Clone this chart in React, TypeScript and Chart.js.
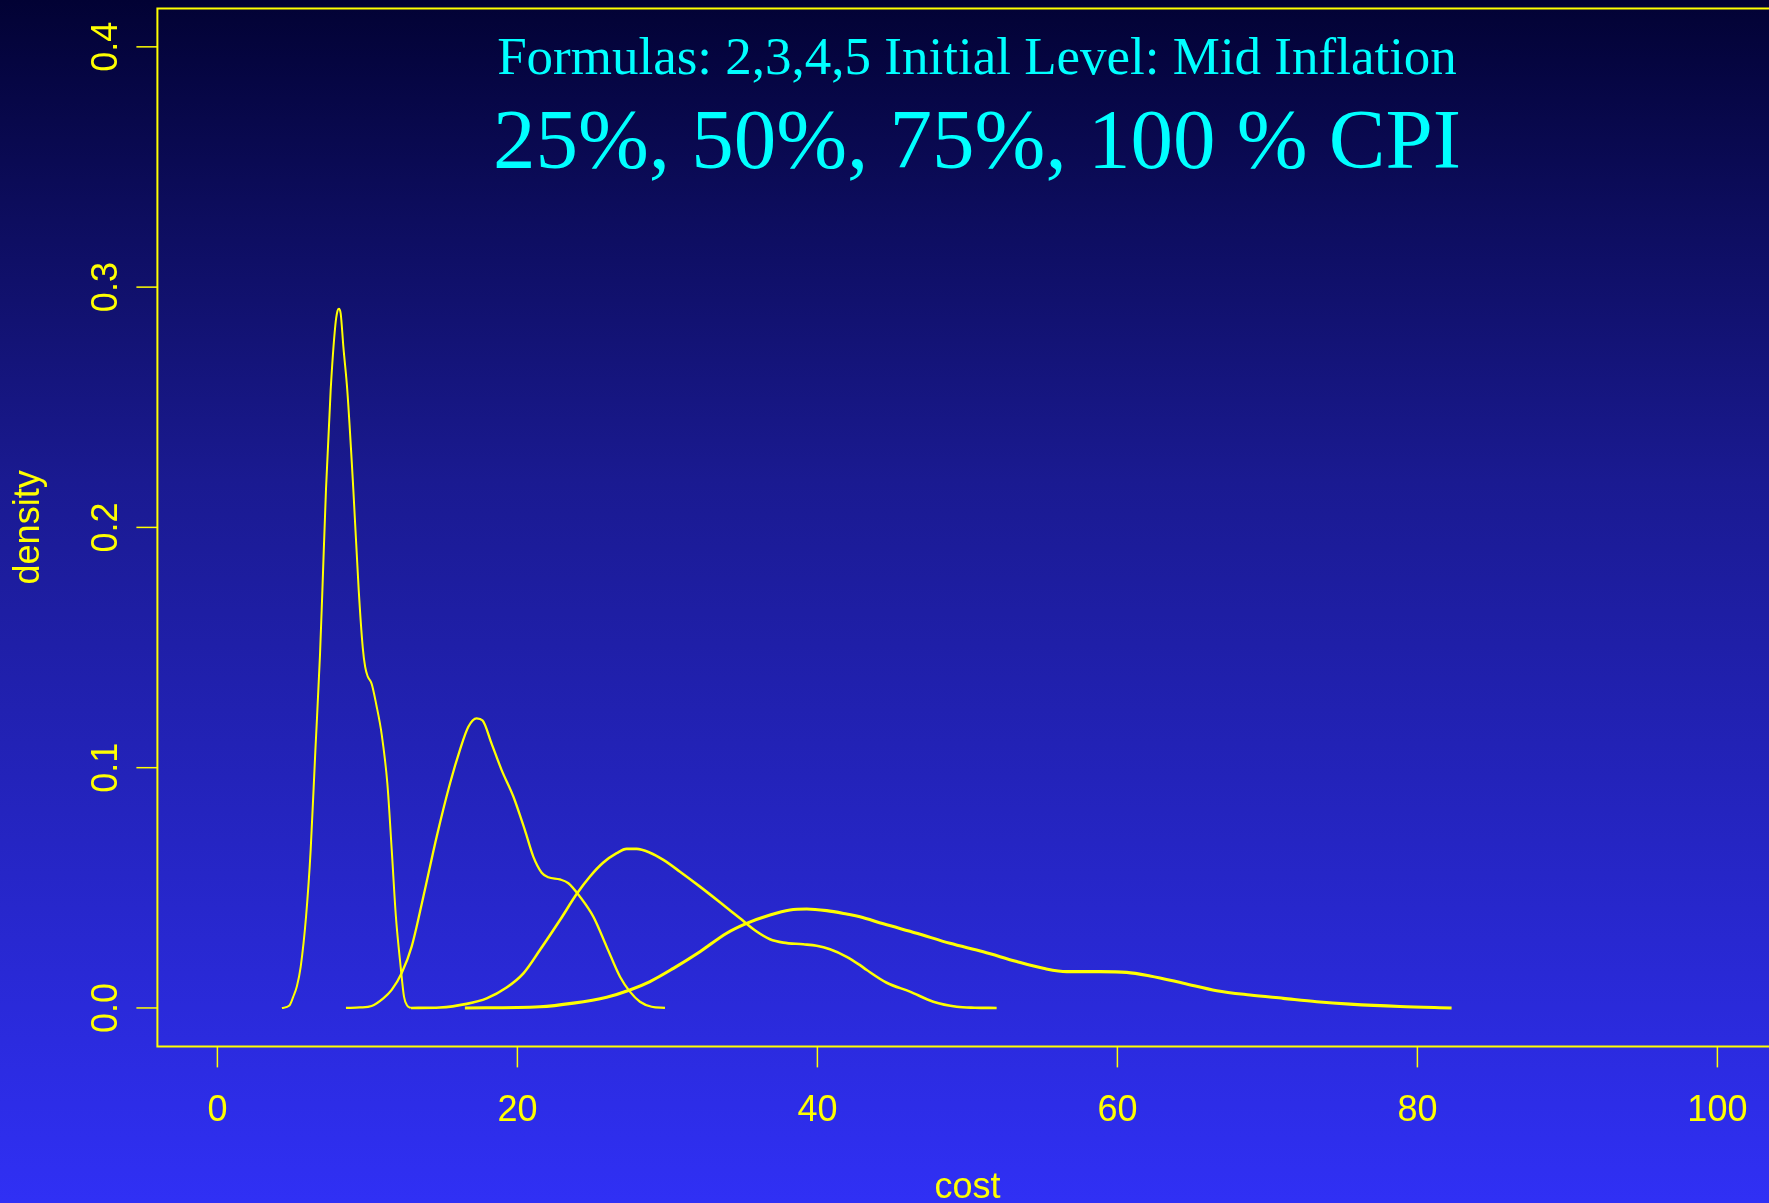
import React, { useEffect, useRef } from "react";
import { Chart, registerables } from "chart.js";

Chart.register(...registerables);

// ---- data ----
const xTicks = [0, 20, 40, 60, 80, 100];
const yTicks = [0, 0.1, 0.2, 0.3, 0.4];
const yTickLabels = ["0.0", "0.1", "0.2", "0.3", "0.4"];

const titleLine1 = "Formulas: 2,3,4,5 Initial Level: Mid Inflation";
const titleLine2 = "25%, 50%, 75%, 100 % CPI";
const xTitle = "cost";
const yTitle = "density";

const aX = [4.3, 4.8, 5.06, 5.3, 5.55, 5.91, 6.22, 6.53, 6.84, 7.0, 7.24, 7.55, 7.86, 8.0, 8.1, 8.22, 8.4, 8.66, 9.06, 9.42, 9.69, 9.85, 10.02, 10.28, 10.6, 10.95, 11.33, 11.62, 11.9, 12.22, 12.44, 12.65, 12.9];
const aY = [0, 0.001, 0.0047, 0.009, 0.017, 0.038, 0.066, 0.107, 0.147, 0.174, 0.216, 0.257, 0.284, 0.29, 0.291, 0.289, 0.275, 0.257, 0.216, 0.174, 0.15, 0.142, 0.138, 0.135, 0.126, 0.114, 0.0935, 0.066, 0.038, 0.017, 0.0047, 0.001, 0];

const bX = [8.57, 9.5, 10.28, 11.06, 11.62, 12.28, 12.95, 13.73, 14.62, 15.51, 16.17, 16.73, 17.28, 17.68, 18.28, 18.95, 19.73, 20.5, 21.06, 21.62, 22.06, 22.84, 23.4, 24.17, 25.06, 25.95, 26.84, 27.5, 28.17, 28.95, 29.84];
const bY = [0, 0.0002, 0.0008, 0.004, 0.0075, 0.0144, 0.0255, 0.0463, 0.0713, 0.0935, 0.1074, 0.117, 0.1205, 0.1196, 0.11, 0.099, 0.088, 0.074, 0.063, 0.0563, 0.0544, 0.0535, 0.0519, 0.0463, 0.038, 0.0255, 0.013, 0.0068, 0.0026, 0.0005, 0];

const cX = [12.9, 14.84, 16.62, 17.95, 19.28, 20.4, 21.5, 22.84, 23.95, 24.84, 25.73, 26.62, 27.28, 27.95, 28.84, 29.73, 30.84, 32.17, 33.5, 34.84, 35.95, 36.84, 37.73, 39.06, 39.95, 40.84, 41.95, 42.84, 43.29, 44.62, 46.17, 47.73, 49.29, 50.5, 51.95];
const cY = [0, 0.0002, 0.0017, 0.004, 0.0085, 0.0144, 0.0241, 0.0366, 0.0474, 0.0547, 0.0605, 0.0644, 0.0662, 0.0662, 0.0646, 0.0616, 0.0567, 0.0505, 0.044, 0.0373, 0.0318, 0.0286, 0.0272, 0.0265, 0.0259, 0.0244, 0.0213, 0.0178, 0.0158, 0.0105, 0.0068, 0.0026, 0.0005, 0.0001, 0];

const dX = [16.5, 21.5, 23.73, 25.95, 27.5, 28.84, 30.4, 32.17, 33.95, 35.28, 36.84, 38.17, 39.29, 40.62, 41.95, 42.84, 44.4, 46.62, 48.84, 51.06, 53.29, 55.06, 56.62, 58.84, 60.62, 62.17, 64.4, 66.62, 68.84, 71.06, 73.29, 75.5, 78.84, 82.28];
const dY = [0, 0.0005, 0.002, 0.0045, 0.0075, 0.011, 0.0165, 0.0234, 0.0311, 0.0352, 0.0387, 0.0408, 0.0412, 0.0405, 0.0391, 0.038, 0.035, 0.0311, 0.0269, 0.0234, 0.0193, 0.0165, 0.0151, 0.0151, 0.0148, 0.0133, 0.0103, 0.0072, 0.0054, 0.004, 0.0026, 0.0016, 0.0006, 0];

const seriesX = [aX, bX, cX, dX];
const seriesY = [aY, bY, cY, dY];
const seriesNames = ["25% CPI", "50% CPI", "75% CPI", "100% CPI"];
const seriesWidths = [2, 2.3, 2.6, 3.1];

const YELLOW = "#FFFF00";
const CYAN = "#00FFFF";
const SANS = '"Liberation Sans", Arial, Helvetica, sans-serif';
const SERIF = '"Liberation Serif", "Times New Roman", Times, serif';

const CANVAS_W = 1800;
const CANVAS_H = 1203;

const rAxesPlugin = {
  id: "rAxes",
  afterDatasetsDraw(chart: any) {
    const ctx = chart.ctx as CanvasRenderingContext2D;
    const { left, top, right, bottom } = chart.chartArea;
    const xs = chart.scales.x;
    const ys = chart.scales.y;
    ctx.save();
    // box (left, top, bottom, right)
    ctx.strokeStyle = YELLOW;
    ctx.lineWidth = 2;
    ctx.beginPath();
    ctx.rect(left, top, right - left, bottom - top);
    ctx.stroke();

    // x ticks
    ctx.lineWidth = 1.5;
    ctx.fillStyle = YELLOW;
    ctx.font = `36px ${SANS}`;
    ctx.textAlign = "center";
    ctx.textBaseline = "alphabetic";
    xTicks.forEach((v) => {
      const px = xs.getPixelForValue(v);
      ctx.beginPath();
      ctx.moveTo(px, bottom);
      ctx.lineTo(px, bottom + 21);
      ctx.stroke();
      ctx.fillText(String(v), px, bottom + 75);
    });

    // y ticks
    yTicks.forEach((v, i) => {
      const py = ys.getPixelForValue(v);
      ctx.beginPath();
      ctx.moveTo(left, py);
      ctx.lineTo(left - 21, py);
      ctx.stroke();
      ctx.save();
      ctx.translate(left - 40, py);
      ctx.rotate(-Math.PI / 2);
      ctx.fillText(yTickLabels[i], 0, 0);
      ctx.restore();
    });

    // axis titles
    ctx.fillText(xTitle, (left + right) / 2, bottom + 152);
    ctx.save();
    ctx.translate(39, (top + bottom) / 2);
    ctx.rotate(-Math.PI / 2);
    ctx.fillText(yTitle, 0, 0);
    ctx.restore();

    // main titles
    ctx.fillStyle = CYAN;
    ctx.font = `53px ${SERIF}`;
    ctx.fillText(titleLine1, 977, 74);
    ctx.font = `85px ${SERIF}`;
    ctx.fillText(titleLine2, 977, 168);
    ctx.restore();
  },
};

export default function App() {
  const ref = useRef<HTMLCanvasElement | null>(null);

  useEffect(() => {
    const canvas = ref.current;
    if (!canvas) return;
    const datasets = seriesX.map((xs, i) => ({
      label: seriesNames[i],
      data: xs.map((x, j) => ({ x, y: seriesY[i][j] })),
      borderColor: YELLOW,
      backgroundColor: YELLOW,
      borderWidth: seriesWidths[i],
      pointRadius: 0,
      fill: false,
      cubicInterpolationMode: "monotone" as const,
    }));
    const chart = new Chart(canvas, {
      type: "line",
      data: { datasets },
      options: {
        responsive: false,
        animation: false,
        devicePixelRatio: 1,
        layout: { padding: { left: 157.4, top: 8.4, right: 22.6, bottom: 156.6 } },
        plugins: {
          legend: { display: false },
          tooltip: { enabled: false },
          title: { display: false },
        },
        scales: {
          x: { type: "linear", min: -4, max: 104, display: false },
          y: { type: "linear", min: -0.016, max: 0.416, display: false },
        },
      },
      plugins: [rAxesPlugin],
    });
    return () => chart.destroy();
  }, []);

  return (
    <div
      style={{
        position: "absolute",
        left: 0,
        top: 0,
        width: 1769,
        height: 1203,
        overflow: "hidden",
        background: "linear-gradient(to bottom, rgb(2,2,52) 0%, rgb(26,26,145) 40%, rgb(48,48,245) 100%)",
      }}
    >
      <canvas ref={ref} width={CANVAS_W} height={CANVAS_H} style={{ display: "block", width: CANVAS_W, height: CANVAS_H }} />
    </div>
  );
}
